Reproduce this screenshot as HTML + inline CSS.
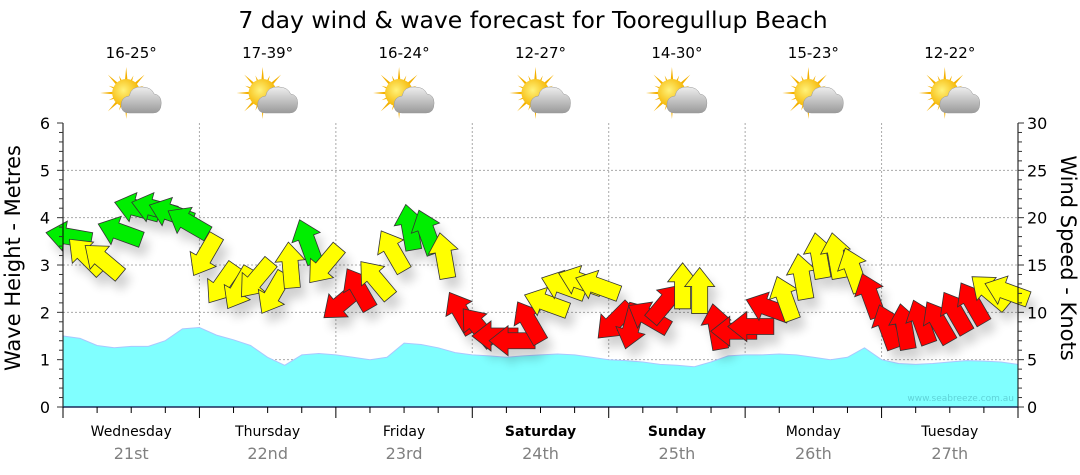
<!DOCTYPE html>
<html><head><meta charset="utf-8">
<style>
html,body{margin:0;padding:0;background:#fff;}
svg{display:block;font-family:"DejaVu Sans","Liberation Sans",sans-serif;}
</style></head>
<body>
<svg id="chart" width="1080" height="475" viewBox="0 0 1080 475">
<defs>
<filter id="sh" x="-50%" y="-50%" width="200%" height="200%"><feGaussianBlur stdDeviation="5"/></filter>
<radialGradient id="sunG" cx="0.4" cy="0.4" r="0.6"><stop offset="0" stop-color="#fff27a"/><stop offset="1" stop-color="#f5b400"/></radialGradient>
<linearGradient id="cloudG" x1="0" y1="0" x2="0" y2="1"><stop offset="0" stop-color="#eeeeee"/><stop offset="1" stop-color="#9a9a9a"/></linearGradient>
</defs>
<text x="533" y="28" font-size="23.5" text-anchor="middle" fill="#000">7 day wind &amp; wave forecast for Tooregullup Beach</text>
<g id="grid"></g>
<g id="wave"></g>
<text x="1014" y="401" font-size="9" text-anchor="end" fill="#5fd3d8">www.seabreeze.com.au</text>
<g id="shadows" filter="url(#sh)" opacity="0.18"></g>
<g id="wind"></g>
<g id="axes"></g>
<g id="icons"></g>
<text transform="translate(20,258) rotate(-90)" font-size="21" text-anchor="middle">Wave Height - Metres</text>
<text transform="translate(1061,258) rotate(90)" font-size="21" text-anchor="middle">Wind Speed - Knots</text>
</svg>
<script>
const days=["Wednesday","Thursday","Friday","Saturday","Sunday","Monday","Tuesday"];
const dates=["21st","22nd","23rd","24th","25th","26th","27th"];
const temps=["16-25°","17-39°","16-24°","12-27°","14-30°","15-23°","12-22°"];
const waveHeights=[1.5,1.45,1.3,1.25,1.28,1.28,1.4,1.65,1.68,1.52,1.42,1.3,1.05,0.88,1.1,1.13,1.1,1.05,1.0,1.05,1.35,1.32,1.25,1.15,1.1,1.08,1.05,1.08,1.1,1.12,1.1,1.05,1.0,0.98,0.95,0.9,0.88,0.85,0.95,1.08,1.1,1.1,1.12,1.1,1.05,1.0,1.05,1.25,1.0,0.92,0.9,0.92,0.95,0.98,0.97,0.95,0.9];
const windSpeeds=[18,16,15.5,18.5,21,21,20.5,19.5, 16,13,12.5,13.5,12,15,17.5,15, 11,12.5,13.5,16.5,19,18.5,16,10, 8.5,7.5,7,9,11,12.8,13.3,12.8, 9,8.5,9.5,11,12.8,12.3,8.5,8, 8.5,10.5,11.5,13.8,16,16,14.5,11.8, 8.5,8.5,9,9,10,11,12.2,12.2];
const windDirs=[190,225,220,200,195,195,200,210, 120,125,120,130,120,-95,-110,130, 140,-120,-130,-120,-100,-110,-100,-120, -130,180,180,-120,200,200,200,200, 135,105,-150,-50,-90,-90,-100,180, 180,200,-110,-100,-100,-100,-110,-110, -110,-100,-110,-120,-120,-120,-140,200];
const windColors="GYYGGGGG YYYYYYGY RRYYGGYR RRRRYYYY RRRRYYRR RRYYYYYR RRRRRRYY".replace(/ /g,"");
const waveTicks=[0,1,2,3,4,5,6];
const windTicks=[0,5,10,15,20,25,30];

const NS="http://www.w3.org/2000/svg";
const X0=63,X1=1018,Y0=407,Y1=123;
const dayW=(X1-X0)/7;
const xH=h=>X0+h*(X1-X0)/168;
const yM=m=>Y0-m*(Y0-Y1)/6;
const yK=k=>Y0-k*(Y0-Y1)/30;
function el(tag,attrs,parent,text){const e=document.createElementNS(NS,tag);for(const k in attrs)e.setAttribute(k,attrs[k]);if(text!==undefined)e.textContent=text;parent.appendChild(e);return e;}
const grid=document.getElementById('grid'),axes=document.getElementById('axes');
waveTicks.forEach(t=>{if(t>0&&t<6){const g=el('line',{x1:X0,x2:X1,y1:yM(t),y2:yM(t),stroke:'#aaa','stroke-dasharray':'2,2'},grid);

}});
for(let d=1;d<7;d++){const g=el('line',{x1:X0+d*dayW,x2:X0+d*dayW,y1:Y1,y2:Y0,stroke:'#aaa','stroke-dasharray':'2,2'},grid);

}
let p=`M${X0},${Y0}`;waveHeights.forEach((h,i)=>{p+=` L${xH(i*3).toFixed(1)},${yM(h).toFixed(1)}`;});p+=` L${X1},${Y0} Z`;
const wa=el('path',{d:p,fill:'#80ffff',stroke:'#a9c7ff','stroke-width':1},document.getElementById('wave'));


const cmap={G:'#00ee00',Y:'#ffff00',R:'#ff0000'};
const arrow="M-23,-8 L4,-8 L4,-15 L23,0 L4,15 L4,8 L-23,8 Z";
const wg=document.getElementById('wind'),sg=document.getElementById('shadows');
windSpeeds.forEach((s,i)=>{
 const x=xH(i*3+1),y=yK(s);
 const sh=el('path',{d:arrow,transform:`translate(${x+6},${y+10}) rotate(${windDirs[i]})`,fill:'#000'},sg);
 
 
 const a=el('path',{d:arrow,transform:`translate(${x},${y}) rotate(${windDirs[i]})`,fill:cmap[windColors[i]],stroke:'#333','stroke-width':0.8},wg);
 
 
});
const axL=el('line',{x1:X0,x2:X0,y1:Y1,y2:Y0,stroke:'#000'},axes);


const axR=el('line',{x1:X1,x2:X1,y1:Y1,y2:Y0,stroke:'#000'},axes);


const axB=el('line',{x1:X0,x2:X1,y1:Y0,y2:Y0,stroke:'#1a2a5a','stroke-width':1.5},axes);


for(let m=0;m<=30;m++){const y=yM(m/5);const big=m%5==0;el('line',{x1:X0-(big?6:4),x2:X0,y1:y,y2:y,stroke:'#333'},axes);}
for(let k=0;k<=30;k++){const y=yK(k);const big=k%5==0;el('line',{x1:X1,x2:X1+(big?6:4),y1:y,y2:y,stroke:'#333'},axes);}
waveTicks.forEach(t=>{const tl=el('text',{x:50,y:yM(t)+6,'font-size':16,'text-anchor':'end'},axes,String(t));

});
windTicks.forEach(t=>{const tl=el('text',{x:1027,y:yK(t)+6,'font-size':16},axes,String(t));

});
for(let q=0;q<=28;q++){const x=X0+q*dayW/4;const big=q%4==0;el('line',{x1:x,x2:x,y1:Y0,y2:Y0+(big?11:6),stroke:'#000'},axes);}
days.forEach((d,i)=>{const cx=X0+(i+0.5)*dayW;
 const t=el('text',{x:cx,y:436,'font-size':14,'text-anchor':'middle','font-weight':(i==3||i==4)?'bold':'normal'},axes,d);
 
 
 const t2=el('text',{x:cx,y:459,'font-size':16,'text-anchor':'middle',fill:'#808080'},axes,dates[i]);
 
 
 const t3=el('text',{x:cx,y:58,'font-size':15,'text-anchor':'middle'},axes,temps[i]);
 
 
 const ig=el('g',{transform:`translate(${cx},96)`},document.getElementById('icons'));
 
 
 for(let r=0;r<16;r++){const a=r*22.5*Math.PI/180;const L=r%2?19:26;
  el('polygon',{points:`${-5+2.5*Math.cos(a+1.57)},${-3+2.5*Math.sin(a+1.57)} ${-5+L*Math.cos(a)},${-3+L*Math.sin(a)} ${-5+2.5*Math.cos(a-1.57)},${-3+2.5*Math.sin(a-1.57)}`,fill:'#f4b000'},ig);}
 el('circle',{cx:-5,cy:-3,r:14,fill:'url(#sunG)'},ig);
 el('path',{d:"M-2,17 Q-10,17 -10,9 Q-10,1 -2,0 Q0,-10 11,-9 Q20,-9 23,-2 Q30,-1 30,7 Q30,17 22,17 Z",fill:'url(#cloudG)',stroke:'#999','stroke-width':0.5},ig);
});
</script>
</body></html>
